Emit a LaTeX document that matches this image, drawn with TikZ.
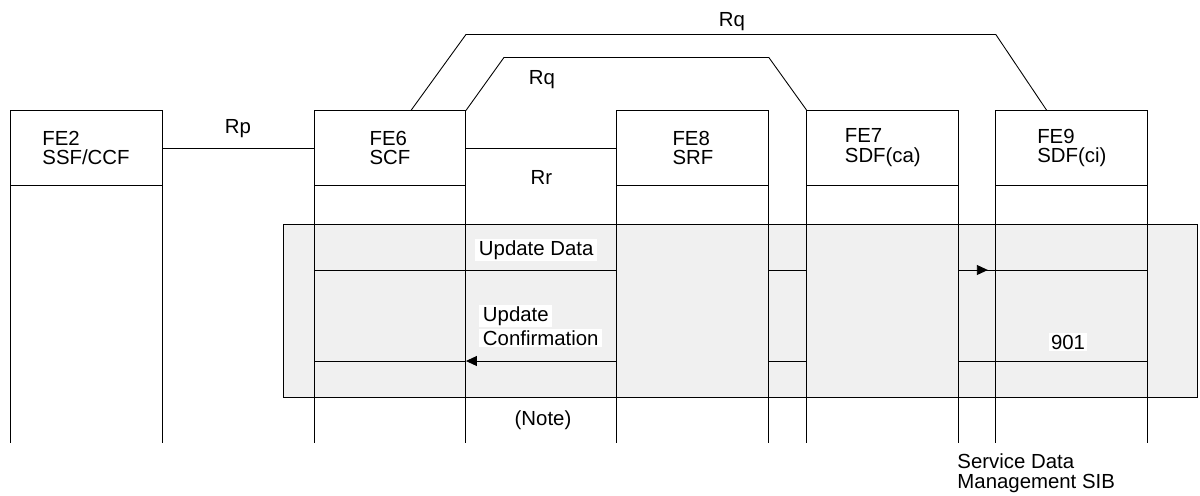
\documentclass[tikz,border=0pt]{standalone}
\usepackage{fontspec}
\setmainfont{Liberation Sans}
\usetikzlibrary{arrows.meta,positioning}
\tikzset{fe/.style={draw,minimum width=3.04cm,minimum height=1.5cm,align=left,inner sep=0pt,outer sep=0pt},
	msg/.style={fill=white,inner xsep=2pt,inner ysep=1pt,anchor=west}}

\begin{document}
\begin{tikzpicture}[x=0.02cm,y=-0.02cm,line width=0.5pt,font=\fontsize{11.6}{11.3}\selectfont,>={Triangle[length=0.22cm,width=0.2cm]}]
		\useasboundingbox (0,0) rectangle (1200,495);
		\filldraw[fill=black!6] (283,224) rectangle (1197,397);
		\node[fe] (fe2) at (86,148) {FE2\\SSF/CCF};
		\node[fe,right=3.04cm of fe2] (fe6) {FE6\\SCF};
		\node[fe,right=3.02cm of fe6] (fe8) {FE8\\SRF};
		\node[fe,right=0.76cm of fe8] (fe7) {FE7\\SDF(ca)};
		\node[fe,right=0.74cm of fe7] (fe9) {FE9\\SDF(ci)};
		\foreach \f in {fe2,fe6,fe8,fe7,fe9}{
			\draw (\f.south west) -- ++(0,257);
			\draw (\f.south east) -- ++(0,257);
		}
		\draw (fe2.east) -- node[above=2pt] (rp) {Rp} (fe6.west);
		\draw (fe6.east) -- node[below=9pt] (rr) {Rr} (fe8.west);
		\draw (fe6.north east) -- ++(38,-53) coordinate (qa) -- (qa -| fe8.north east) coordinate (qb) -- (fe7.north west);
		\draw ([xshift=-1.1cm]fe6.north east) -- ++(55,-76) coordinate (qc) -- (qc -| fe9.north west) coordinate (qd) -- ([xshift=1.02cm]fe9.north west);
		\node (rq1) at (542,80) {Rq};
		\node (rq2) at (732,22) {Rq};
		\coordinate (m1) at (0,270);
		\coordinate (m2) at (0,361);
		\draw (fe6.south west |- m1) -- (fe8.south west |- m1);
		\draw (fe8.south east |- m1) -- (fe7.south west |- m1);
		\draw (fe7.south east |- m1) -- (fe9.south east |- m1);
		\draw[->] (fe7.south east |- m1) -- ++(29,0);
		\draw (fe9.south east |- m2) -- (fe7.south east |- m2);
		\draw (fe7.south west |- m2) -- (fe8.south east |- m2);
		\draw[->] (fe8.south west |- m2) -- (fe6.south east |- m2);
		\draw (fe6.south east |- m2) -- (fe6.south west |- m2);
		\node[msg] (upd) at (475,250) {Update Data};
		\node[msg] (upc1) at (479,316) {Update};
		\node[msg] (upc2) at (479,338) {Confirmation};
		\node[fill=white,inner sep=1pt] (num) at (1068,342) {901};
		\node (note) at (543,420) {(Note)};
		\node[align=left,anchor=north west,inner sep=0pt] (sib) at (957,453) {Service Data\\Management SIB};
\end{tikzpicture}
\end{document}
